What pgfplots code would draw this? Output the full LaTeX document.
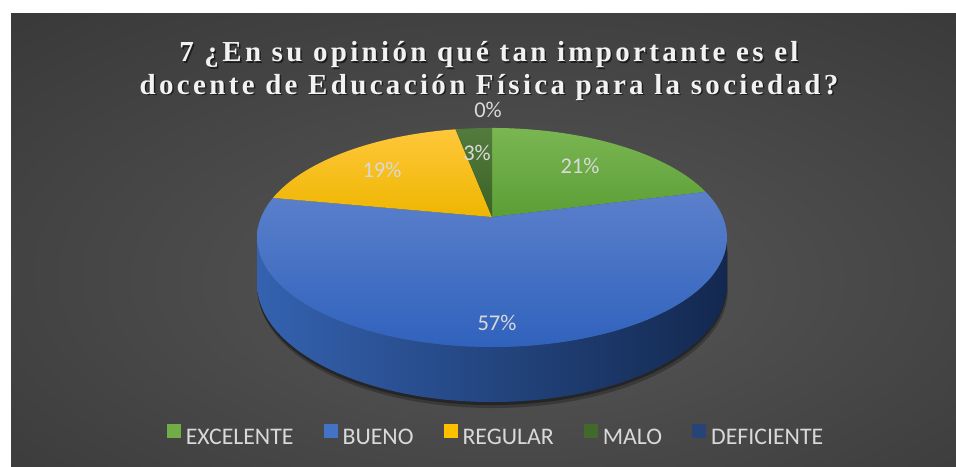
\documentclass[border=0pt]{standalone}
\usepackage{pgfplots}
\pgfplotsset{compat=1.18}
\usepackage{pgfplotstable}
\usepackage{fontspec}
\setmainfont{Carlito}
\newfontfamily\carlito{Carlito}
\newfontfamily\titlefont[LetterSpace=11.5]{Liberation Serif}

\definecolor{bgin}{HTML}{4E4E4E}
\definecolor{bgout}{HTML}{1E1E1E}
\definecolor{txt}{HTML}{D9D9D9}
\definecolor{ttl}{HTML}{F2F2F2}
\definecolor{cgreen}{HTML}{70AD47}
\definecolor{cblue}{HTML}{4472C4}
\definecolor{cyellow}{HTML}{FFC000}
\definecolor{cdgreen}{HTML}{43682B}
\definecolor{cdblue}{HTML}{264478}
\definecolor{gtop}{HTML}{7AB652}
\definecolor{gbot}{HTML}{5C9E36}
\definecolor{btop}{HTML}{5B80CB}
\definecolor{bbot}{HTML}{3062BD}
\definecolor{ytop}{HTML}{FFC73A}
\definecolor{ybot}{HTML}{EEB600}
\definecolor{dgtop}{HTML}{527B3D}
\definecolor{dgbot}{HTML}{3C6226}
\definecolor{sleft}{HTML}{3462B0}
\definecolor{smid}{HTML}{1F3E79}
\definecolor{sright}{HTML}{13284F}

\pgfdeclareradialshading{bgshade}{\pgfpoint{2bp}{-6bp}}{color(0bp)=(bgin); color(12bp)=(bgin); color(72bp)=(bgout)}

\pgfplotstableread{
label value
EXCELENTE 21
BUENO 57
REGULAR 19
MALO 3
DEFICIENTE 0
}\datatable

\pgfplotstablegetelem{0}{value}\of\datatable \let\vA\pgfplotsretval
\pgfplotstablegetelem{1}{value}\of\datatable \let\vB\pgfplotsretval
\pgfplotstablegetelem{2}{value}\of\datatable \let\vC\pgfplotsretval
\pgfplotstablegetelem{3}{value}\of\datatable \let\vD\pgfplotsretval
\pgfmathsetmacro\aA{90}
\pgfmathsetmacro\aB{\aA-3.6*\vA}
\pgfmathsetmacro\aC{\aB-3.6*\vB}
\pgfmathsetmacro\aD{\aC-3.6*\vC}
\pgfmathsetmacro\aE{\aD-3.6*\vD}

\begin{document}
\begin{tikzpicture}
\begin{axis}[
  scale only axis, width=956pt, height=466pt,
  xmin=0, xmax=956, ymin=0, ymax=466, y dir=reverse,
  hide axis, clip=false,
  declare function={
    px(\a)=492+230.8*cos(\a)/(1+0.1872*sin(\a));
    py(\a)=217-105.7*sin(\a)/(1+0.1872*sin(\a));
    ph(\t)=(\t<=1)*(190.79+158.42*\t)+(\t>1)*(349.21-158.42*(\t-1));
  },
  legend image code/.code={\path[#1] (0pt,0pt) rectangle (14pt,14.3pt);},
  legend style={at={(axis cs:495,435)}, anchor=center, draw=none, fill=none,
    legend columns=-1, font=\carlito\fontsize{23.8}{27}\selectfont, text=txt,
    inner sep=0pt, nodes={inner sep=0pt},
    /tikz/every odd column/.append style={column sep=5pt},
    /tikz/every even column/.append style={column sep=30pt}},
]
% background
\path[fill=white] (axis cs:0,0) rectangle (axis cs:956,466);
\path[shading=bgshade] (axis cs:11,13) rectangle (axis cs:956,466);

% shadow under pie
\addplot[forget plot, fill=black, draw=none, opacity=0.25, domain=0:2, samples=201]
  ({px(ph(x))+1}, {py(ph(x))+(x>1)*44.7/(1+0.1872*sin(ph(x)))+6});
\addplot[forget plot, fill=black, draw=none, opacity=0.35, domain=0:2, samples=201]
  ({px(ph(x))}, {py(ph(x))+(x>1)*44.7/(1+0.1872*sin(ph(x)))+3});

% side of the pie (front, BUENO)
\addplot[forget plot, draw=none, left color=sleft, middle color=smid, right color=sright, domain=0:2, samples=201]
  ({px(ph(x))}, {py(ph(x))+(x>1)*44.7/(1+0.1872*sin(ph(x)))});

% top faces
\addplot[forget plot, draw=none, top color=gtop, bottom color=gbot, domain=\aB:\aA, samples=60]
  ({px(x)},{py(x)}) -- (axis cs:492,217) -- cycle;
\addplot[forget plot, draw=none, top color=btop, bottom color=bbot, domain=\aC:\aB, samples=160]
  ({px(x)},{py(x)}) -- (axis cs:492,217) -- cycle;
\addplot[forget plot, draw=none, top color=ytop, bottom color=ybot, domain=\aD:\aC, samples=60]
  ({px(x)},{py(x)}) -- (axis cs:492,217) -- cycle;
\addplot[forget plot, draw=none, top color=dgtop, bottom color=dgbot, domain=\aE:\aD, samples=20]
  ({px(x)},{py(x)}) -- (axis cs:492,217) -- cycle;

% data labels
\begin{scope}[every node/.style={font=\carlito\fontsize{22.5}{26}\selectfont, text=txt, inner sep=0pt}]
\node at (axis cs:580,166) {21\%};
\node at (axis cs:497,323) {57\%};
\node at (axis cs:382,170) {19\%};
\node at (axis cs:477,153) {3\%};
\node at (axis cs:488,110) {0\%};
\end{scope}

% title
\begin{scope}[every node/.style={font=\titlefont\bfseries\fontsize{29}{32}\selectfont, inner sep=0pt, anchor=base}]
\node[text=black, opacity=0.55] at (axis cs:490.5,63.5) {7 ¿En su opinión qué tan importante es el};
\node[text=black, opacity=0.55] at (axis cs:490.5,95.8) {docente de Educación Física para la sociedad?};
\node[text=ttl] at (axis cs:489,61.7) {7 ¿En su opinión qué tan importante es el};
\node[text=ttl] at (axis cs:489,94) {docente de Educación Física para la sociedad?};
\end{scope}

% legend
\addlegendimage{fill=cgreen, draw=none}
\addlegendentry{EXCELENTE}
\addlegendimage{fill=cblue, draw=none}
\addlegendentry{BUENO}
\addlegendimage{fill=cyellow, draw=none}
\addlegendentry{REGULAR}
\addlegendimage{fill=cdgreen, draw=none}
\addlegendentry{MALO}
\addlegendimage{fill=cdblue, draw=none}
\addlegendentry{DEFICIENTE}
\end{axis}
\end{tikzpicture}
\end{document}
